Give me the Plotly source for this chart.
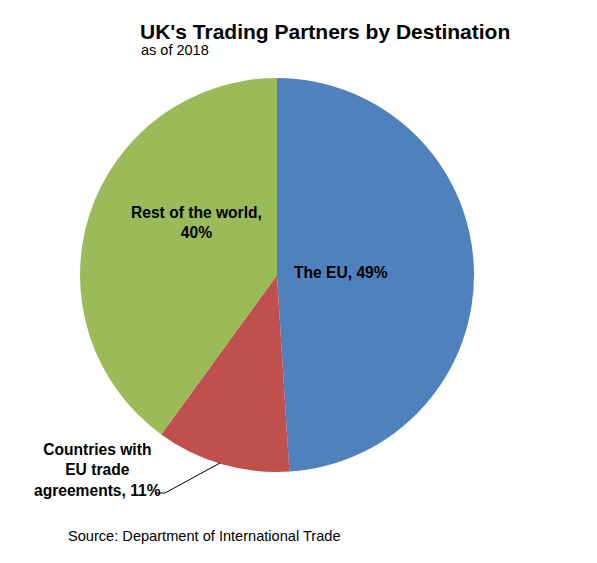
import plotly.graph_objects as go

labels = ["The EU", "Countries with EU trade agreements", "Rest of the world"]
values = [49, 11, 40]
colors = ["#4F81BD", "#C0504D", "#9BBB59"]
label_texts = ["The EU, 49%", "Countries with<br>EU trade<br>agreements, 11%", "Rest of the world,<br>40%"]

W, H = 597, 563
def px(x): return x / W
def py(y): return 1 - y / H

fig = go.Figure(go.Pie(
    labels=labels, values=values, sort=False, direction="clockwise", rotation=0,
    marker=dict(colors=colors, line=dict(width=0)),
    textinfo="none", hoverinfo="label+percent", showlegend=False,
    domain=dict(x=[px(80), px(474)], y=[py(472), py(78)]),
))

font_lbl = dict(family="Liberation Sans, Arial", size=15.6, color="black")
ann = [
    dict(x=px(341), y=py(272), text="<b>" + label_texts[0] + "</b>"),
    dict(x=px(97), y=py(470), text="<b>" + label_texts[1] + "</b>"),
    dict(x=px(196), y=py(222), text="<b>" + label_texts[2] + "</b>"),
]
annotations = [dict(a, xref="paper", yref="paper", showarrow=False, font=font_lbl,
                    xanchor="center", yanchor="middle", align="center") for a in ann]
annotations += [
    dict(x=px(325), y=py(31), xref="paper", yref="paper", showarrow=False,
         text="<b>UK's Trading Partners by Destination</b>", xanchor="center", yanchor="middle",
         font=dict(family="Liberation Sans, Arial", size=21, color="black")),
    dict(x=px(139), y=py(50), xref="paper", yref="paper", showarrow=False,
         text="as of 2018", xanchor="left", yanchor="middle",
         font=dict(family="Liberation Sans, Arial", size=14.5, color="black")),
    dict(x=px(66), y=py(536), xref="paper", yref="paper", showarrow=False,
         text="Source: Department of International Trade", xanchor="left", yanchor="middle",
         font=dict(family="Liberation Sans, Arial", size=14.6, color="black")),
]

fig.update_layout(
    width=W, height=H, margin=dict(l=0, r=0, t=0, b=0),
    paper_bgcolor="white", plot_bgcolor="white",
    annotations=annotations,
    shapes=[dict(type="path", xref="paper", yref="paper",
                 path=f"M {px(156)} {py(493)} L {px(165)} {py(493)} L {px(220)} {py(463)}",
                 line=dict(color="black", width=1))],
)
fig.write_html("out.html", config={"displayModeBar": False},
               post_script="document.body.style.margin='0';")
